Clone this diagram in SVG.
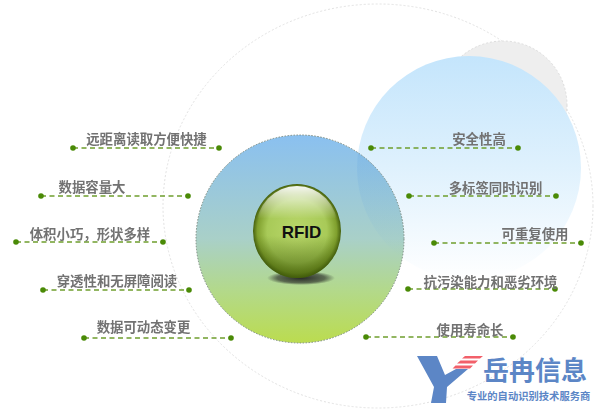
<svg xmlns="http://www.w3.org/2000/svg" width="600" height="412" viewBox="0 0 600 412">
<style>
text{font-family:"Noto Sans CJK SC","Noto Sans",sans-serif}
.lb{font-size:13.4px;font-weight:700;fill:#727272;text-anchor:middle}
.ld{fill:none;stroke:#6f9e2e;stroke-width:1.5;stroke-dasharray:5 3.5}
.dot{fill:#4a8a06}
.logo{fill:#5c86c6}
</style>
<defs>
<filter id="soft" x="-5%" y="-20%" width="110%" height="140%"><feGaussianBlur stdDeviation=".4"/></filter>
<linearGradient id="mid" x1="0" y1="0" x2="0" y2="1"><stop offset="0" stop-color="#8ac0f0"/><stop offset=".5" stop-color="#a9d0c8"/><stop offset=".75" stop-color="#b3d98a"/><stop offset="1" stop-color="#bbdc4f"/></linearGradient>
<linearGradient id="sky" x1="0" y1="0" x2="0" y2="1"><stop offset="0" stop-color="#c4e5fc"/><stop offset=".5" stop-color="#dff1fd"/><stop offset="1" stop-color="#ffffff"/></linearGradient>
<linearGradient id="veil" x1="0" y1="0" x2="0" y2="1"><stop offset=".4" stop-color="#5a9fe0" stop-opacity=".22"/><stop offset=".9" stop-color="#5a9fe0" stop-opacity="0"/></linearGradient>
<radialGradient id="ball" cx=".5" cy=".5" r=".5"><stop offset="0" stop-color="#b9d76a"/><stop offset=".68" stop-color="#a8ca58"/><stop offset=".9" stop-color="#80a02e"/><stop offset="1" stop-color="#46600e"/></radialGradient>
<linearGradient id="shine" x1="0" y1="0" x2="0" y2="1"><stop offset="0" stop-color="#fff" stop-opacity=".95"/><stop offset=".38" stop-color="#fff" stop-opacity="0"/></linearGradient>
<linearGradient id="under" x1="0" y1="0" x2="0" y2="1"><stop offset=".55" stop-color="#3f5a08" stop-opacity="0"/><stop offset="1" stop-color="#3f5a08" stop-opacity=".7"/></linearGradient>
<radialGradient id="shade"><stop offset="0" stop-color="#222" stop-opacity=".95"/><stop offset=".7" stop-color="#222" stop-opacity=".6"/><stop offset="1" stop-color="#222" stop-opacity="0"/></radialGradient>
<clipPath id="midclip"><circle cx="300" cy="239" r="104"/></clipPath>
</defs>
<g id="backdrop">
<ellipse cx="378" cy="206" rx="215" ry="202" fill="none" stroke="#e2e2e2" stroke-width="1" stroke-dasharray="2 2"/>
<circle cx="503" cy="105" r="64" fill="#eeeeee" stroke="#dddddd" stroke-dasharray="2 2"/>
<circle cx="469" cy="168" r="112" fill="url(#sky)"/>
</g>
<g id="center">
<circle cx="300" cy="239" r="104" fill="url(#mid)" stroke="#7a8a80" stroke-width="1" stroke-dasharray="1.5 1.5"/>
<circle cx="469" cy="168" r="112" fill="url(#veil)" clip-path="url(#midclip)"/>
<ellipse cx="301" cy="278" rx="34" ry="7" fill="url(#shade)"/>
<ellipse cx="297" cy="231" rx="44" ry="47" fill="url(#ball)"/>
<ellipse cx="297" cy="231" rx="44" ry="47" fill="url(#under)"/>
<ellipse cx="297" cy="229" rx="41" ry="43" fill="url(#shine)"/>
<text x="301.500" y="238" font-size="17" font-weight="700" text-anchor="middle" fill="#111" style="font-family:'Liberation Sans',sans-serif">RFID</text>
</g>
<g id="connectors">
<path class="ld" d="M73 148H219M41 196H188M16 242H163M43 290H189M84 338H231M371 148H518M409 196H556M434 243H581M408 289H555M366 337H513"/>
<g class="dot">
<circle cx="73" cy="148" r="2.800"/><circle cx="219" cy="148" r="2.800"/>
<circle cx="41" cy="196" r="2.800"/><circle cx="188" cy="196" r="2.800"/>
<circle cx="16" cy="242" r="2.800"/><circle cx="163" cy="242" r="2.800"/>
<circle cx="43" cy="290" r="2.800"/><circle cx="189" cy="290" r="2.800"/>
<circle cx="84" cy="338" r="2.800"/><circle cx="231" cy="338" r="2.800"/>
<circle cx="371" cy="148" r="2.800"/><circle cx="518" cy="148" r="2.800"/>
<circle cx="409" cy="196" r="2.800"/><circle cx="556" cy="196" r="2.800"/>
<circle cx="434" cy="243" r="2.800"/><circle cx="581" cy="243" r="2.800"/>
<circle cx="408" cy="289" r="2.800"/><circle cx="555" cy="289" r="2.800"/>
<circle cx="366" cy="337" r="2.800"/><circle cx="513" cy="337" r="2.800"/>
</g>
</g>
<g id="labels" filter="url(#soft)">
<text class="lb" x="146.500" y="144">远距离读取方便快捷</text>
<text class="lb" x="92" y="192">数据容量大</text>
<text class="lb" x="90" y="239">体积小巧，形状多样</text>
<text class="lb" x="117" y="286">穿透性和无屏障阅读</text>
<text class="lb" x="143.500" y="332">数据可动态变更</text>
<text class="lb" x="479" y="144">安全性高</text>
<text class="lb" x="495.500" y="193">多标签同时识别</text>
<text class="lb" x="535" y="239">可重复使用</text>
<text class="lb" x="490.500" y="287">抗污染能力和恶劣环境</text>
<text class="lb" x="470" y="335">使用寿命长</text>
</g>
<g id="logo">
<path class="logo" d="M417 356H437L445 375L456 369H468L447 387L446 403H431L434 387Z"/>
<path d="M465 356H483L480 358.500H462ZM460.500 360.500H478L475 363.500H457ZM455.500 365.500H473L470 368.500H452.500Z" fill="#f2606a"/>
<text class="logo" x="535" y="380" font-size="26" font-weight="700" text-anchor="middle">岳冉信息</text>
<text class="logo" x="528.500" y="399.500" font-size="10.300" font-weight="700" text-anchor="middle">专业的自动识别技术服务商</text>
</g>
</svg>
